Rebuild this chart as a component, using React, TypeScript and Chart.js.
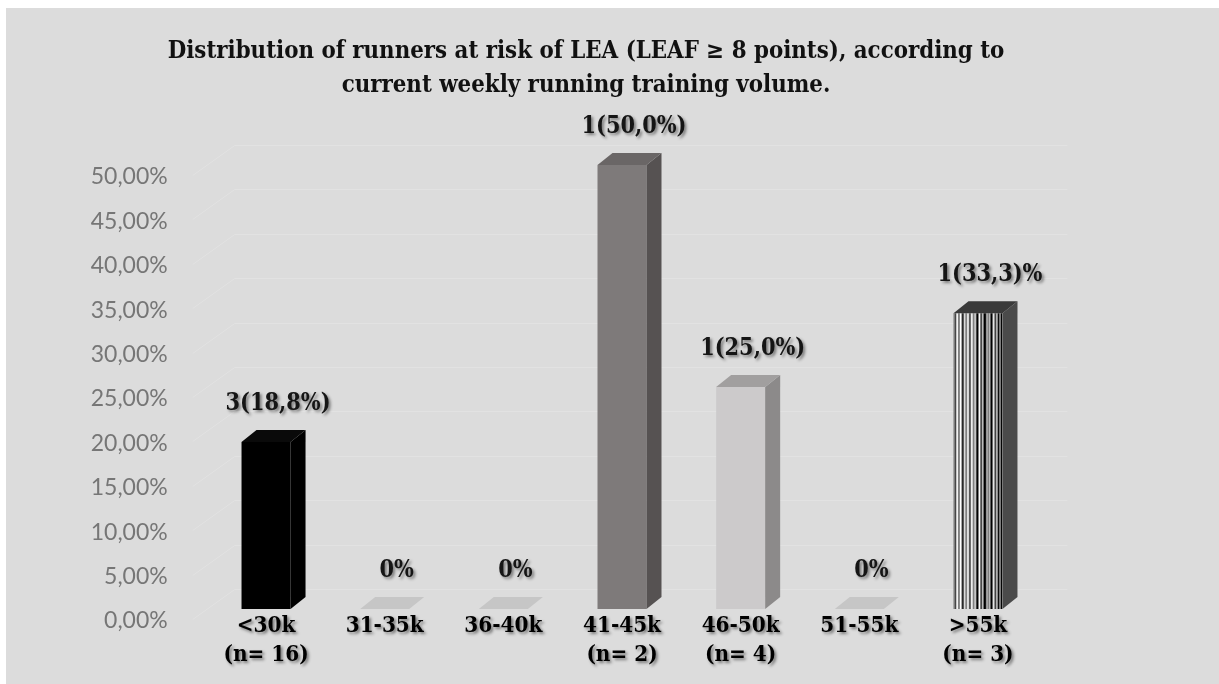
import React, { useEffect, useRef } from 'react';
import { Chart, registerables } from 'chart.js';

Chart.register(...registerables);

// ---------- data ----------
const categories: string[][] = [
  ['<30k', '(n= 16)'],
  ['31-35k'],
  ['36-40k'],
  ['41-45k', '(n= 2)'],
  ['46-50k', '(n= 4)'],
  ['51-55k'],
  ['>55k', '(n= 3)'],
];
const percentages: number[] = [18.8, 0, 0, 50.0, 25.0, 0, 33.3];
const valueLabels: string[] = ['3(18,8%)', '0%', '0%', '1(50,0%)', '1(25,0%)', '0%', '1(33,3)%'];
const yTickLabels: string[] = [
  '0,00%', '5,00%', '10,00%', '15,00%', '20,00%', '25,00%',
  '30,00%', '35,00%', '40,00%', '45,00%', '50,00%',
];
const titleLines: string[] = [
  'Distribution of runners at risk of LEA (LEAF \u2265 8 points), according to',
  'current weekly running training volume.',
];

// ---------- styles ----------
const SERIF = '"DejaVu Serif Condensed", "DejaVu Serif", "Liberation Serif", serif';
const SANS = 'Lato, "Open Sans", sans-serif';
const frontColors = ['#000000', '#c8c8c8', '#c8c8c8', '#7e7a7a', '#cccacb', '#c8c8c8', 'STRIPES'];
const sideColors = ['#000000', '#c8c8c8', '#c8c8c8', '#565252', '#8c8a8a', '#c8c8c8', '#4a4a4a'];
const topColors = ['#0a0a0a', '#c6c6c6', '#c6c6c6', '#6a6666', '#a19f9f', '#c6c6c6', '#3a3a3a'];

function fitSize(text: string, family: string, weight: string, target: number): number {
  const c = document.createElement('canvas').getContext('2d')!;
  c.font = `${weight} 100px ${family}`;
  return (100 * target) / c.measureText(text).width;
}

function makeStripes(ctx: CanvasRenderingContext2D, width: number): CanvasPattern | string {
  const w = Math.max(4, Math.round(width));
  const c = document.createElement('canvas');
  c.width = w;
  c.height = 4;
  const g = c.getContext('2d')!;
  g.fillStyle = '#ffffff';
  g.fillRect(0, 0, w, 4);
  g.fillStyle = '#000000';
  const stripes = [
    [0.02, 0.03], [0.1, 0.02], [0.17, 0.04], [0.25, 0.02], [0.32, 0.03],
    [0.4, 0.02], [0.46, 0.05], [0.55, 0.03], [0.61, 0.06], [0.7, 0.02],
    [0.75, 0.05], [0.84, 0.03], [0.9, 0.04], [0.96, 0.04],
  ];
  stripes.forEach(([x, sw]) => g.fillRect(x * w, 0, Math.max(1, sw * w), 4));
  return ctx.createPattern(c, 'repeat') || '#888';
}

export default function App() {
  const ref = useRef<HTMLCanvasElement>(null);

  useEffect(() => {
    const canvas = ref.current!;
    const ctx = canvas.getContext('2d')!;
    const W = 1219;
    const H = 684;

    const titleSize = fitSize(titleLines[0], SERIF, 'bold', 837);
    const labelSize = fitSize('31-35k', SERIF, 'bold', 78);
    const valueSize = fitSize('1(50,0%)', SERIF, 'bold', 105);
    const tickSize = fitSize('50,00%', SANS, 'normal', 77);

    const DEPTH_X = 15;
    const DEPTH_Y = 12;
    const LIFT = 12;

    let stripePattern: any = null;

    const bgPlugin = {
      id: 'bg',
      beforeDraw(chart: any) {
        const c = chart.ctx;
        c.save();
        c.fillStyle = '#ffffff';
        c.fillRect(0, 0, W, H);
        c.fillStyle = '#dcdcdc';
        c.fillRect(6, 8, W - 6, H - 8);
        // title
        c.fillStyle = '#111111';
        c.font = `bold ${titleSize}px ${SERIF}`;
        c.textAlign = 'center';
        c.textBaseline = 'middle';
        c.fillText(titleLines[0], 586, 52);
        c.fillText(titleLines[1], 586, 86);
        c.restore();
        // shadowed, unclipped x labels
        const xs = chart.scales.x;
        if (xs && !xs.__patched) {
          const orig = xs.drawLabels.bind(xs);
          xs._computeLabelArea = () => undefined;
          xs.drawLabels = (area: any) => {
            const cc = chart.ctx;
            cc.save();
            cc.shadowColor = 'rgba(0,0,0,0.45)';
            cc.shadowBlur = 3;
            cc.shadowOffsetX = 2;
            cc.shadowOffsetY = 2;
            orig(area);
            cc.restore();
          };
          xs.__patched = true;
        }
      },
    };

    const gridPlugin = {
      id: 'wallGrid',
      beforeDatasetsDraw(chart: any) {
        const c = chart.ctx;
        const ys = chart.scales.y;
        const { left, right } = chart.chartArea;
        c.save();
        c.strokeStyle = '#e2e2e2';
        c.lineWidth = 1;
        for (let v = 0; v <= 50; v += 5) {
          const y = Math.round(ys.getPixelForValue(v) - 2) + 0.5;
          c.beginPath();
          c.moveTo(left - 14, y);
          c.lineTo(left + 28, y - 30);
          c.lineTo(right + 30, y - 30);
          c.stroke();
        }
        c.restore();
      },
    };

    const bar3dPlugin = {
      id: 'bar3d',
      beforeDatasetsDraw(chart: any) {
        const meta = chart.getDatasetMeta(0);
        const el = meta.data[6];
        if (el && stripePattern && stripePattern.setTransform) {
          const p = el.getProps(['x', 'width'], true);
          stripePattern.setTransform(new DOMMatrix([1, 0, 0, 1, p.x - p.width / 2, 0]));
        }
        chart.ctx.save();
        chart.ctx.translate(0, -LIFT);
      },
      afterDatasetsDraw(chart: any) {
        const c = chart.ctx;
        const meta = chart.getDatasetMeta(0);
        meta.data.forEach((el: any, i: number) => {
          const { x, y, base, width } = el.getProps(['x', 'y', 'base', 'width'], true);
          const l = x - width / 2;
          const r = x + width / 2;
          if (percentages[i] > 0) {
            c.fillStyle = sideColors[i];
            c.beginPath();
            c.moveTo(r, y);
            c.lineTo(r + DEPTH_X, y - DEPTH_Y);
            c.lineTo(r + DEPTH_X, base - DEPTH_Y);
            c.lineTo(r, base);
            c.closePath();
            c.fill();
          }
          c.fillStyle = topColors[i];
          c.beginPath();
          c.moveTo(l, y);
          c.lineTo(l + DEPTH_X, y - DEPTH_Y);
          c.lineTo(r + DEPTH_X, y - DEPTH_Y);
          c.lineTo(r, y);
          c.closePath();
          c.fill();
        });
        c.restore();
      },
    };

    const labelPlugin = {
      id: 'valueLabels',
      afterDatasetsDraw(chart: any) {
        const c = chart.ctx;
        const meta = chart.getDatasetMeta(0);
        c.save();
        c.font = `bold ${valueSize}px ${SERIF}`;
        c.fillStyle = '#151515';
        c.textAlign = 'center';
        c.textBaseline = 'middle';
        c.shadowColor = 'rgba(0,0,0,0.45)';
        c.shadowBlur = 3;
        c.shadowOffsetX = 2;
        c.shadowOffsetY = 2;
        meta.data.forEach((el: any, i: number) => {
          const { x, y } = el.getProps(['x', 'y'], true);
          c.fillText(valueLabels[i], x + 12, y - LIFT - 38);
        });
        c.restore();
      },
    };

    const chart = new Chart(ctx, {
      type: 'bar',
      data: {
        labels: categories,
        datasets: [
          {
            data: percentages,
            backgroundColor: (context: any) => {
              const i = context.dataIndex;
              if (frontColors[i] === 'STRIPES') {
                if (!stripePattern) stripePattern = makeStripes(ctx, 49);
                return stripePattern;
              }
              return frontColors[i];
            },
            borderWidth: 0,
            barPercentage: 0.413,
            categoryPercentage: 1,
            clip: false as any,
          },
        ],
      },
      options: {
        responsive: false,
        animation: false,
        devicePixelRatio: 1,
        layout: { padding: { left: 0, top: 177, right: W - 1037.3, bottom: 0 } },
        plugins: {
          legend: { display: false },
          tooltip: { enabled: false },
          title: { display: false },
        },
        scales: {
          x: {
            grid: { display: false, drawTicks: false },
            border: { display: false },
            ticks: {
              color: '#000000',
              font: { family: SERIF, size: labelSize, weight: 'bold', lineHeight: 29 / labelSize },
              padding: -9,
              maxRotation: 0,
              autoSkip: false,
            },
            afterFit: (s: any) => {
              s.height = 63;
            },
          },
          y: {
            min: 0,
            max: 50,
            grid: { display: false, drawTicks: false },
            border: { display: false },
            ticks: {
              stepSize: 5,
              color: '#767676',
              font: { family: SANS, size: tickSize },
              padding: 39,
              callback: (v: any) => yTickLabels[Math.round(Number(v) / 5)],
            },
            afterFit: (s: any) => {
              s.width = 206.7;
            },
          },
        },
      } as any,
      plugins: [bgPlugin, gridPlugin, bar3dPlugin, labelPlugin],
    });

    return () => chart.destroy();
  }, []);

  return (
    <div style={{ position: 'fixed', left: 0, top: 0, width: 1219, height: 684 }}>
      <canvas ref={ref} width={1219} height={684} style={{ display: 'block' }} />
    </div>
  );
}
